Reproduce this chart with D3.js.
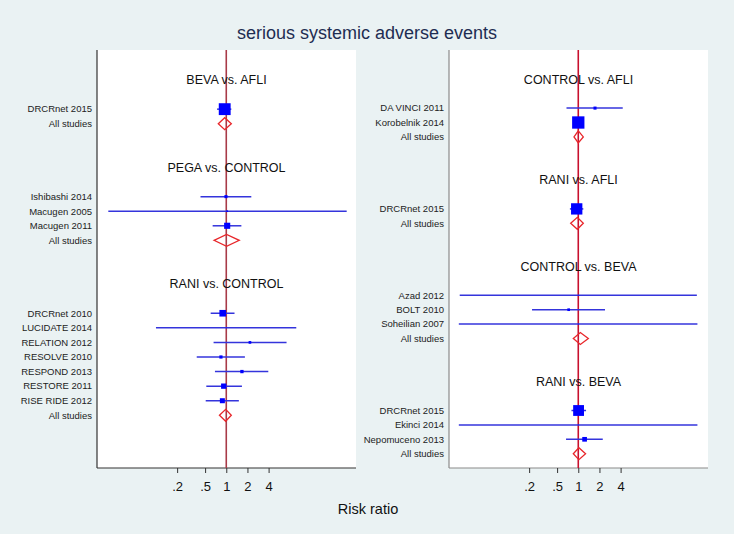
<!DOCTYPE html>
<html>
<head>
<meta charset="utf-8">
<script src="https://cdn.jsdelivr.net/npm/d3@7"></script>
<style>
  html, body { margin: 0; padding: 0; background: #eaf2f3; }
  svg { display: block; font-family: "Liberation Sans", Arial, sans-serif; }
</style>
</head>
<body>
<svg id="chart" width="734" height="534"></svg>
<script>
// ---------- DATA ----------
const chartTitle = "serious systemic adverse events";
const axisTitle = "Risk ratio";
const tickValues = [0.2, 0.5, 1, 2, 4];
const tickLabels = [".2", ".5", "1", "2", "4"];

const groupNames = ["BEVA vs. AFLI", "PEGA vs. CONTROL", "RANI vs. CONTROL",
                    "CONTROL vs. AFLI", "RANI vs. AFLI", "CONTROL vs. BEVA", "RANI vs. BEVA"];
const groupPanel = [0, 0, 0, 1, 1, 1, 1];

const studyNames = ["DRCRnet 2015",
  "Ishibashi 2014", "Macugen 2005", "Macugen 2011",
  "DRCRnet 2010", "LUCIDATE 2014", "RELATION 2012", "RESOLVE 2010", "RESPOND 2013", "RESTORE 2011", "RISE RIDE 2012",
  "DA VINCI 2011", "Korobelnik 2014",
  "DRCRnet 2015",
  "Azad 2012", "BOLT 2010", "Soheilian 2007",
  "DRCRnet 2015", "Ekinci 2014", "Nepomuceno 2013"];
const studyGroup = [0, 1, 1, 1, 2, 2, 2, 2, 2, 2, 2, 3, 3, 4, 5, 5, 5, 6, 6, 6];
const studyRR  = [0.95, 0.99, 1.03, 1.03, 0.89, 1.0, 2.17, 0.84, 1.67, 0.92, 0.88, 1.73, 1.0, 0.95, 1.0, 0.73, 1.0, 1.01, 1.0, 1.23];
const studyLCI = [0.74, 0.43, 0.021, 0.64, 0.60, 0.10, 0.66, 0.38, 0.69, 0.52, 0.51, 0.68, 0.99, 0.76, 0.0206, 0.22, 0.020, 0.80, 0.020, 0.67];
const studyUCI = [1.18, 2.27, 51.6, 1.64, 1.31, 9.9, 7.2, 1.84, 3.96, 1.67, 1.51, 4.29, 1.01, 1.18, 48.6, 2.40, 49.5, 1.29, 49.5, 2.23];
const studyWeight = [90, 6, 1.8, 24, 28, 0.4, 4.6, 6.5, 7, 18, 16, 6, 97, 82, 0.4, 4.5, 0.4, 75, 0.4, 14];

const pooledRR  = [0.95, 1.01, 0.98, 1.0, 0.97, 1.07, 1.02];
const pooledLCI = [0.77, 0.67, 0.80, 0.87, 0.78, 0.85, 0.85];
const pooledUCI = [1.18, 1.53, 1.18, 1.18, 1.18, 1.39, 1.27];

// ---------- LAYOUT ----------
const svg = d3.select("#chart");
const W = 734, H = 534;
const plotTop = 50, plotBottom = 468;
const panels = [
  { x0: 97, x1: 356, rowStart: 80, rowEnd: 415.3, nRows: 23, axisColor: "#333", refColor: "#a83a48" },
  { x0: 449, x1: 708, rowStart: 79.3, rowEnd: 453.7, nRows: 26, axisColor: "#8a8a8a", refColor: "#c8102e" }
];
const logDomain = [0.0145, 70];

svg.append("rect").attr("width", W).attr("height", H).attr("fill", "#eaf2f3");

svg.append("text")
  .attr("x", 367).attr("y", 39)
  .attr("text-anchor", "middle")
  .attr("font-size", 18)
  .attr("fill", "#1e2d52")
  .text(chartTitle);

svg.append("text")
  .attr("x", 368).attr("y", 514)
  .attr("text-anchor", "middle")
  .attr("font-size", 14.5)
  .attr("fill", "#111")
  .text(axisTitle);

// compute row positions per panel
const rowCounter = [0, 0];
const groupRows = groupNames.map((g, gi) => {
  const p = groupPanel[gi];
  const header = rowCounter[p];
  const idx = studyNames.map((s, i) => i).filter(i => studyGroup[i] === gi);
  const studyRows = idx.map((i, k) => ({ i, row: header + 2 + k }));
  const pooledRow = header + 2 + idx.length;
  rowCounter[p] = pooledRow + 3;
  return { header, studyRows, pooledRow };
});

panels.forEach((P, pi) => {
  const x = d3.scaleLog().domain(logDomain).range([P.x0, P.x1]);
  const y = d3.scaleLinear().domain([0, P.nRows]).range([P.rowStart, P.rowEnd]);
  const size = d3.scaleSqrt().domain([0, 100]).range([0, 12.5]);
  const g = svg.append("g");

  // plot region
  g.append("rect")
    .attr("x", P.x0).attr("y", plotTop)
    .attr("width", P.x1 - P.x0).attr("height", plotBottom - plotTop)
    .attr("fill", "#ffffff");

  // x axis
  const axis = d3.axisBottom(x)
    .tickValues(tickValues)
    .tickFormat((d, i) => tickLabels[i])
    .tickSize(5)
    .tickSizeOuter(0);
  const ax = g.append("g")
    .attr("transform", `translate(0,${plotBottom})`)
    .call(axis);
  ax.select(".domain").attr("stroke", P.axisColor).attr("stroke-width", 1.2)
    .attr("d", `M${P.x0},0H${P.x1}`);
  ax.selectAll(".tick line").attr("stroke", "#333");
  ax.selectAll(".tick text")
    .attr("font-size", 13)
    .attr("font-family", "Liberation Sans, Arial, sans-serif")
    .attr("fill", "#111")
    .attr("dy", "1.15em");

  // left axis line
  g.append("line")
    .attr("x1", P.x0).attr("x2", P.x0)
    .attr("y1", plotTop).attr("y2", plotBottom)
    .attr("stroke", P.axisColor).attr("stroke-width", 1.2);

  // reference line at 1
  g.append("line")
    .attr("x1", x(1)).attr("x2", x(1))
    .attr("y1", plotTop).attr("y2", plotBottom)
    .attr("stroke", P.refColor).attr("stroke-width", 1.6);

  groupNames.forEach((name, gi) => {
    if (groupPanel[gi] !== pi) return;
    const GR = groupRows[gi];

    g.append("text")
      .attr("x", (P.x0 + P.x1) / 2).attr("y", y(GR.header))
      .attr("dy", "0.35em")
      .attr("text-anchor", "middle")
      .attr("font-size", 12.5)
      .attr("fill", "#111")
      .text(name);

    GR.studyRows.forEach(({ i, row }) => {
      const yy = y(row);
      g.append("text")
        .attr("x", P.x0 - 5).attr("y", yy)
        .attr("dy", "0.35em")
        .attr("text-anchor", "end")
        .attr("font-size", 9.5)
        .attr("fill", "#222")
        .text(studyNames[i]);
      g.append("line")
        .attr("x1", x(studyLCI[i])).attr("x2", x(studyUCI[i]))
        .attr("y1", yy).attr("y2", yy)
        .attr("stroke", "#3434dc").attr("stroke-width", 1.5);
      const s = size(studyWeight[i]);
      g.append("rect")
        .attr("x", x(studyRR[i]) - s / 2).attr("y", yy - s / 2)
        .attr("width", s).attr("height", s)
        .attr("fill", "#0000ff");
    });

    const py = y(GR.pooledRow);
    g.append("text")
      .attr("x", P.x0 - 5).attr("y", py)
      .attr("dy", "0.35em")
      .attr("text-anchor", "end")
      .attr("font-size", 9.5)
      .attr("fill", "#222")
      .text("All studies");
    const xl = x(pooledLCI[gi]), xm = x(pooledRR[gi]), xr = x(pooledUCI[gi]);
    g.append("path")
      .attr("d", `M${xl},${py}L${xm},${py - 6}L${xr},${py}L${xm},${py + 6}Z`)
      .attr("fill", "none")
      .attr("stroke", "#e8262a").attr("stroke-width", 1.3);
  });
});
</script>
</body>
</html>
